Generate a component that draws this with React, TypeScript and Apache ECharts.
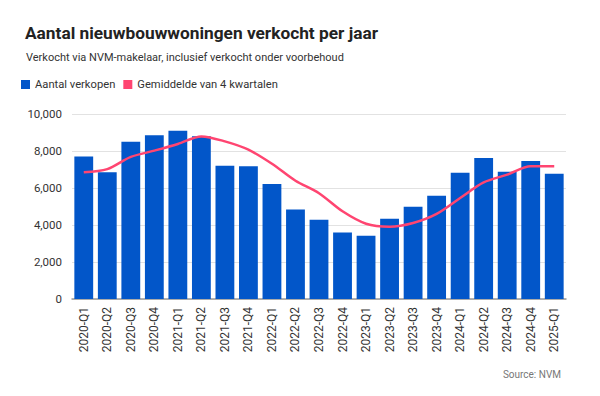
import React, { useEffect, useRef } from "react";
import * as echarts from "echarts";

const categories = [
  "2020-Q1", "2020-Q2", "2020-Q3", "2020-Q4",
  "2021-Q1", "2021-Q2", "2021-Q3", "2021-Q4",
  "2022-Q1", "2022-Q2", "2022-Q3", "2022-Q4",
  "2023-Q1", "2023-Q2", "2023-Q3", "2023-Q4",
  "2024-Q1", "2024-Q2", "2024-Q3", "2024-Q4",
  "2025-Q1",
];
const verkopen = [
  7700, 6850, 8500, 8850,
  9100, 8800, 7200, 7170,
  6220, 4840, 4290, 3600,
  3420, 4340, 4990, 5580,
  6830, 7620, 6880, 7460,
  6770,
];
const gemiddelde = [
  6850, 7020, 7680, 8020,
  8380, 8790, 8520, 8070,
  7310, 6390, 5720, 4740,
  4070, 3910, 4110, 4600,
  5460, 6300, 6720, 7170,
  7170,
];
const yTicks = [0, 2000, 4000, 6000, 8000, 10000];

const FONT = "Roboto, 'Noto Sans', sans-serif";

export default function App() {
  const ref = useRef<HTMLDivElement>(null);
  useEffect(() => {
    if (!ref.current) return;
    const chart = echarts.init(ref.current, null, { renderer: "svg" });
    chart.setOption({
      animation: false,
      backgroundColor: "#ffffff",
      textStyle: { fontFamily: FONT },
      title: [
        {
          text: "Aantal nieuwbouwwoningen verkocht per jaar",
          left: 20,
          top: 19,
          textStyle: { fontSize: 17.3, fontWeight: "bold", color: "#222222", fontFamily: FONT },
        },
        {
          text: "Verkocht via NVM-makelaar, inclusief verkocht onder voorbehoud",
          left: 21,
          top: 46.5,
          textStyle: { fontSize: 11, fontWeight: "normal", color: "#333333", fontFamily: FONT },
        },
        {
          text: "Source: NVM",
          right: 34,
          top: 364,
          textStyle: { fontSize: 10, fontWeight: "normal", color: "#777777", fontFamily: FONT },
        },
      ],
      legend: {
        left: 16,
        top: 74,
        itemWidth: 9,
        itemHeight: 9,
        itemGap: 8,
        textStyle: { fontSize: 11.2, color: "#333333", fontFamily: FONT },
        data: [
          { name: "Aantal verkopen", icon: "rect" },
          { name: "Gemiddelde van 4 kwartalen", icon: "rect" },
        ],
      },
      grid: { left: 72, right: 34, top: 114, bottom: 97, containLabel: false },
      xAxis: {
        type: "category",
        data: categories,
        axisLine: { lineStyle: { color: "#999999", width: 1.5 } },
        axisTick: { show: false },
        axisLabel: {
          rotate: 90,
          interval: 0,
          fontSize: 12,
          color: "#333333",
          margin: 8,
          fontFamily: FONT,
        },
      },
      yAxis: {
        type: "value",
        min: 0,
        max: 10000,
        interval: 2000,
        axisLine: { show: false },
        axisTick: { show: false },
        splitLine: { lineStyle: { color: "#e2e2e2", width: 1.2 } },
        axisLabel: {
          fontSize: 11.5,
          color: "#333333",
          margin: 10,
          fontFamily: FONT,
          formatter: (v: number) => (yTicks.includes(v) ? v.toLocaleString("en-US") : ""),
        },
      },
      series: [
        {
          name: "Aantal verkopen",
          type: "bar",
          data: verkopen,
          barCategoryGap: "20%",
          itemStyle: { color: "#0256C9" },
        },
        {
          name: "Gemiddelde van 4 kwartalen",
          type: "line",
          data: gemiddelde,
          symbol: "none",
          smooth: 0.3,
          lineStyle: { color: "#FF4571", width: 2.5 },
          itemStyle: { color: "#FF4571" },
        },
      ],
    });
    return () => chart.dispose();
  }, []);
  return <div ref={ref} style={{ width: 600, height: 396, position: "absolute", left: 0, top: 0 }} />;
}
